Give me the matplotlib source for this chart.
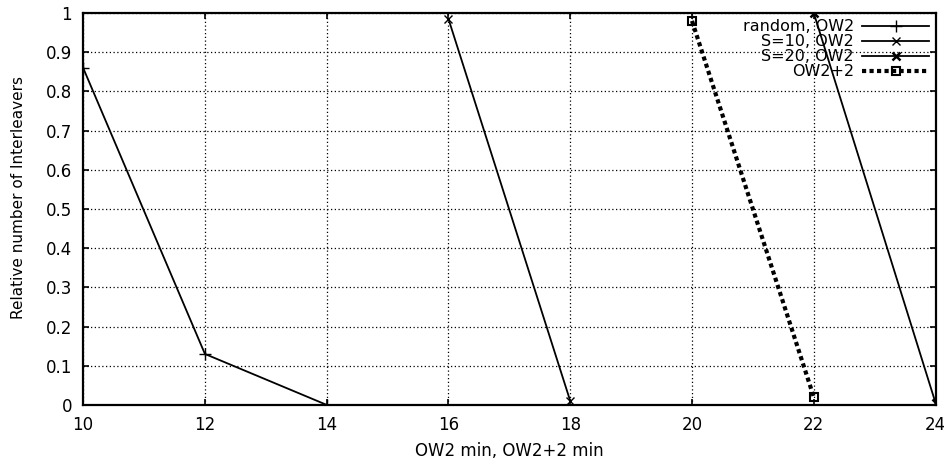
import matplotlib
matplotlib.use("Agg")
import matplotlib.pyplot as plt

plt.rcParams['font.family'] = ['DejaVu Sans']

# series
random_x = [10, 12, 14]
random_y = [0.86, 0.13, 0.0]
s10_x = [16, 18]
s10_y = [0.985, 0.01]
s20_x = [22, 24]
s20_y = [1.0, 0.005]
ow22_x = [20, 22]
ow22_y = [0.98, 0.02]

xticks = [10, 12, 14, 16, 18, 20, 22, 24]
yticks = [0, 0.1, 0.2, 0.3, 0.4, 0.5, 0.6, 0.7, 0.8, 0.9, 1]
ylabels = ['0', '0.1', '0.2', '0.3', '0.4', '0.5', '0.6', '0.7', '0.8', '0.9', '1']

fig, ax = plt.subplots(figsize=(9.45, 4.67), dpi=100)
fig.subplots_adjust(left=0.088, right=0.99, top=0.972, bottom=0.133)

ax.plot(random_x, random_y, color='black', lw=1.3, marker='+', ms=8, label='random, OW2', zorder=3)
ax.plot(s10_x, s10_y, color='black', lw=1.3, marker='x', ms=6, label='S=10, OW2', zorder=3)
ax.plot(s20_x, s20_y, color='black', lw=1.3, marker='x', ms=6, mew=1.8, label='S=20, OW2', zorder=3)
ax.plot(ow22_x, ow22_y, color='black', lw=3, ls=(0, (1, 0.8)), marker='s', ms=6,
        mfc='none', mew=1.5, label='OW2+2', zorder=3)

ax.set_xlim(10, 24)
ax.set_ylim(0, 1)
ax.set_xticks(xticks)
ax.set_yticks(yticks)
ax.set_yticklabels(ylabels)
ax.grid(True, color='black', ls=(0, (1, 2)), lw=0.9)
ax.tick_params(direction='in', length=4, labelsize=12, width=1.2, pad=8,
               top=True, right=True)
for sp in ax.spines.values():
    sp.set_linewidth(1.6)

ax.set_xlabel('OW2 min, OW2+2 min', fontsize=12, labelpad=6)
ax.set_ylabel('Relative number of Interleavers', fontsize=11)
ax.yaxis.set_label_coords(-0.067, 0.53)

leg = ax.legend(loc='upper right', frameon=False, fontsize=11.5, markerfirst=False,
                handlelength=4.2, borderpad=0.1, labelspacing=0.0, handletextpad=0.5,
                borderaxespad=0.3)
leg.set_zorder(2.5)
for t in leg.get_texts():
    t.set_ha('right')

fig.savefig('out.png', dpi=100)
